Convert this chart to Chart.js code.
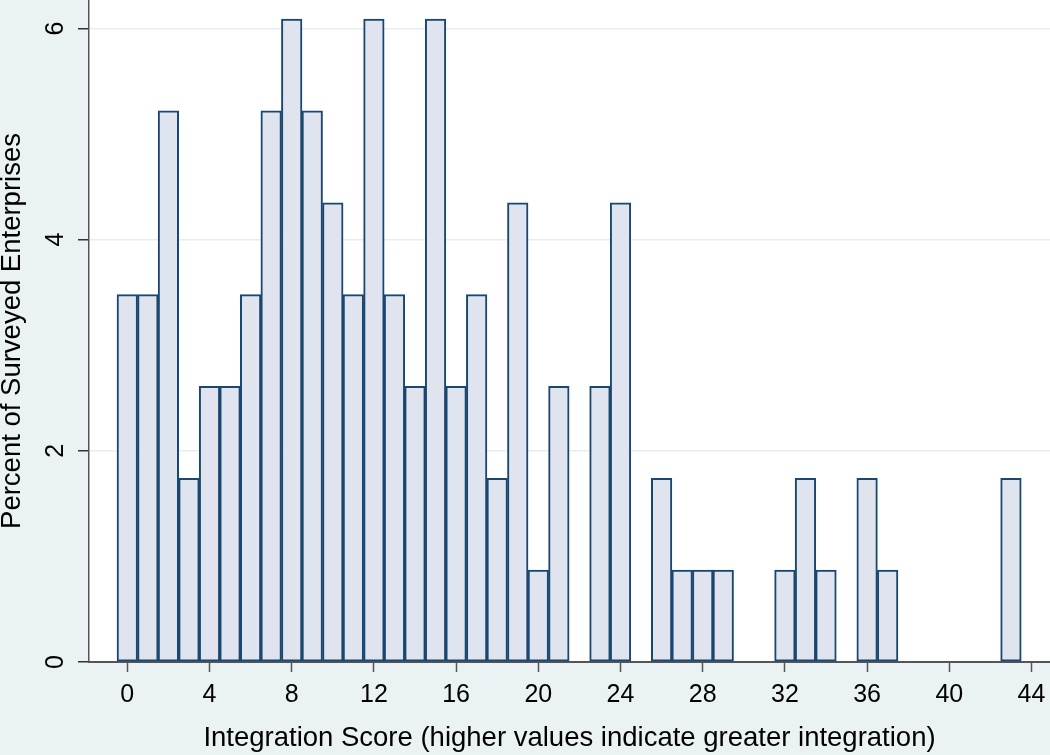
<!DOCTYPE html>
<html>
<head>
<meta charset="utf-8">
<script src="https://cdn.jsdelivr.net/npm/chart.js@4/dist/chart.umd.min.js"></script>
<style>
  html, body { margin: 0; padding: 0; background: #eaf2f3; }
  #wrap { width: 1050px; height: 755px; }
</style>
</head>
<body>
<div id="wrap"><canvas id="chartCanvas"></canvas></div>
<script>
// integration scores that have at least one enterprise, and their percent
const scores   = [0, 1, 2, 3, 4, 5, 6, 7, 8, 9, 10, 11, 12, 13, 14, 15, 16, 17, 18, 19, 20, 21,
                  23, 24, 26, 27, 28, 29, 32, 33, 34, 36, 37, 43];
const percents = [3.48, 3.48, 5.22, 1.74, 2.61, 2.61, 3.48, 5.22, 6.09, 5.22, 4.35, 3.48, 6.09, 3.48, 2.61, 6.09, 2.61, 3.48, 1.74, 4.35, 0.87, 2.61,
                  2.61, 4.35, 1.74, 0.87, 0.87, 0.87, 0.87, 1.74, 0.87, 1.74, 0.87, 1.74];
const xTicks = [0, 4, 8, 12, 16, 20, 24, 28, 32, 36, 40, 44];
const yTicks = [0, 2, 4, 6];

const points = scores.map((s, i) => ({ x: s, y: percents[i] }));

// white plot region on the grey-blue page
const plotBg = {
    id: 'plotBg',
    beforeDraw(chart) {
        const a = chart.chartArea;
        const ctx = chart.ctx;
        ctx.save();
        ctx.fillStyle = '#ffffff';
        ctx.fillRect(a.left, a.top, a.right - a.left, a.bottom - a.top);
        ctx.restore();
    }
};

const tickFont = { family: 'Liberation Sans, Arial, sans-serif', size: 25 };
const titleFont = { family: 'Liberation Sans, Arial, sans-serif', size: 27.5, lineHeight: 0.9 };

new Chart(document.getElementById('chartCanvas').getContext('2d'), {
    type: 'bar',
    data: {
        datasets: [{
            data: points,
            backgroundColor: '#dfe4ef',
            borderColor: '#1a476f',
            borderWidth: 2,
            borderSkipped: false,
            barPercentage: 1,
            categoryPercentage: 1
        }]
    },
    options: {
        responsive: true,
        maintainAspectRatio: false,
        animation: false,
        layout: { padding: 0 },
        plugins: { legend: { display: false }, tooltip: { enabled: false } },
        scales: {
            x: {
                type: 'linear',
                offset: false,
                min: -1.864,
                max: 44.9,
                afterBuildTicks: s => { s.ticks = xTicks.map(v => ({ value: v })); },
                afterFit: s => { s.height = 93; s.paddingLeft = 0; s.paddingRight = 0; },
                grid: { offset: false, drawOnChartArea: false, tickLength: 10, tickColor: '#555', tickWidth: 1.5 },
                border: { color: '#555', width: 2 },
                ticks: { color: '#000', font: tickFont, padding: 8, maxRotation: 0 },
                title: {
                    display: true,
                    text: 'Integration Score (higher values indicate greater integration)',
                    color: '#000',
                    font: titleFont,
                    padding: { top: 4, bottom: 4 }
                }
            },
            y: {
                min: 0,
                max: 6.27,
                afterBuildTicks: s => { s.ticks = yTicks.map(v => ({ value: v })); },
                afterFit: s => { s.width = 89; s.paddingTop = 0; s.paddingBottom = 0; },
                grid: { color: '#e6eef0', lineWidth: 1.5, tickLength: 11, tickColor: '#333', tickWidth: 1.5 },
                border: { color: '#555', width: 1.5 },
                ticks: { color: '#000', font: tickFont, padding: 15, minRotation: 90, maxRotation: 90, crossAlign: 'center' },
                title: {
                    display: true,
                    text: 'Percent of Surveyed Enterprises',
                    color: '#000',
                    font: titleFont,
                    padding: { top: 0, bottom: 0 }
                }
            }
        }
    },
    plugins: [plotBg]
});
</script>
</body>
</html>
